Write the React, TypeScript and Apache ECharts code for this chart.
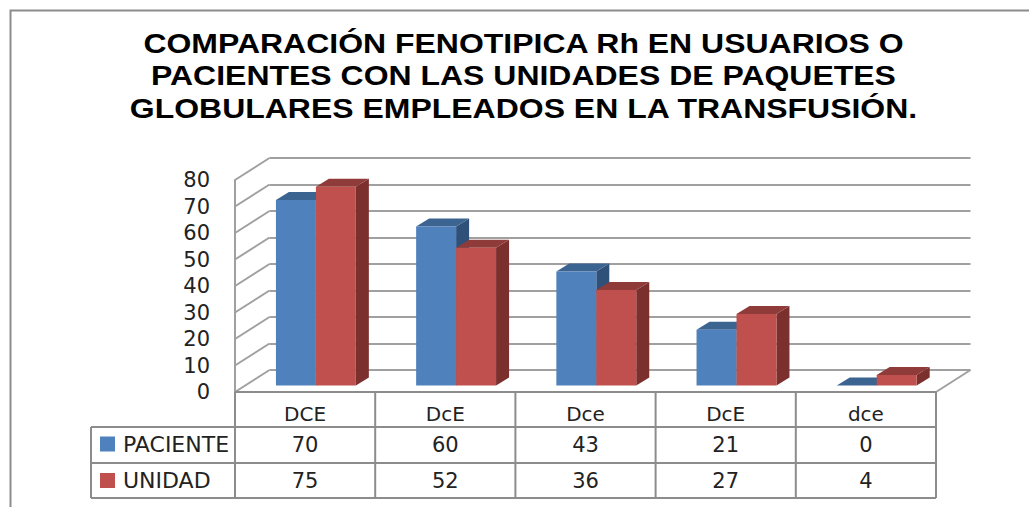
import React, { useEffect, useRef } from "react";
import * as echarts from "echarts";

const titleLines = [
  "COMPARACIÓN FENOTIPICA Rh EN USUARIOS O",
  "PACIENTES CON LAS UNIDADES DE PAQUETES",
  "GLOBULARES EMPLEADOS EN LA TRANSFUSIÓN.",
];
const categories = ["DCE", "DcE", "Dce", "DcE", "dce"];
const paciente = [70, 60, 43, 21, 0];
const unidad = [75, 52, 36, 27, 4];
const yTicks = [0, 10, 20, 30, 40, 50, 60, 70, 80];

const BLUE = { front: "#4F81BD", top: "#3C6491", side: "#2F5078" };
const RED = { front: "#C0504D", top: "#8E3B39", side: "#7B302E" };
const LINE = "#8C8C8C";
const WALL = "#A0A0A0";
const FONT = "'DejaVu Sans', sans-serif";

const L = 235, R = 936, T = 180, B = 392;
const DX = 34.5, DY = -22;
const ROW1 = 427, ROW2 = 463, ROW3 = 498, TABLE_L = 91;

function barRenderer(sign: number, c: typeof BLUE) {
  return (params: any, api: any) => {
    const i = api.value(0);
    const v = api.value(1);
    const band = api.size([1, 0])[0];
    const w = band * 0.285;
    const center = api.coord([i, 0])[0] + 10.8;
    const x0 = sign < 0 ? center - w : center;
    const x1 = x0 + w;
    const yb = api.coord([i, 0])[1] - 6.5;
    const yt = api.coord([i, v])[1] - 6.5;
    const dx = 13, dy = -8;
    return {
      type: "group",
      children: [
        { type: "polygon", shape: { points: [[x1, yb], [x1 + dx, yb + dy], [x1 + dx, yt + dy], [x1, yt]] }, style: { fill: c.side } },
        { type: "polygon", shape: { points: [[x0, yt], [x0 + dx, yt + dy], [x1 + dx, yt + dy], [x1, yt]] }, style: { fill: c.top } },
        { type: "rect", shape: { x: x0, y: yt, width: w, height: yb - yt }, style: { fill: c.front } },
      ],
    };
  };
}

function wallRenderer(params: any, api: any) {
  const i = params.dataIndex;
  const y = api.coord([0, yTicks[i]])[1];
  return {
    type: "line",
    shape: { x1: L, y1: y, x2: L + DX, y2: y + DY },
    style: { stroke: WALL, lineWidth: 2 },
  };
}

function tableRenderer(rowY: number) {
  return (params: any, api: any) => ({
    type: "text",
    x: api.coord([api.value(0), 0])[0],
    y: rowY,
    style: {
      text: String(api.value(1)),
      fill: "#222222",
      font: `21px ${FONT}`,
      align: "center",
      verticalAlign: "middle",
    },
  });
}

const hLine = (x1: number, y: number, x2: number) => ({
  type: "line",
  shape: { x1, y1: y, x2, y2: y },
  style: { stroke: LINE, lineWidth: 2 },
  z: 10,
});
const vLine = (x: number, y1: number, y2: number) => ({
  type: "line",
  shape: { x1: x, y1, x2: x, y2 },
  style: { stroke: LINE, lineWidth: 2 },
  z: 10,
});

const TITLE_SCALE = 1.142;
const titleText = (s: string, i: number) => ({
  type: "text",
  x: 523.5,
  y: 43 + i * 32.5,
  scaleX: TITLE_SCALE,
  style: {
    text: s,
    fill: "#000",
    font: "bold 28px 'Liberation Sans', Arial, sans-serif",
    align: "center",
    verticalAlign: "middle",
  },
  z: 20,
});

export default function App() {
  const ref = useRef<HTMLDivElement>(null);
  useEffect(() => {
    const chart = echarts.init(ref.current!, null, { renderer: "svg" });
    const cellW = (R - L) / categories.length;
    const cols = categories.map((_, i) => L + cellW * (i + 1));
    chart.setOption({
      animation: false,
      backgroundColor: "#fff",
      legend: {
        data: [
          { name: "PACIENTE", icon: "rect", itemStyle: { color: BLUE.front } },
          { name: "UNIDAD", icon: "rect", itemStyle: { color: RED.front } },
        ],
        orient: "vertical",
        left: 100,
        top: 433,
        itemWidth: 15,
        itemHeight: 15,
        itemGap: 14.5,
        selectedMode: false,
        padding: 0,
        textStyle: { fontFamily: FONT, fontSize: 22, lineHeight: 16, height: 16, color: "#222", padding: [0, 0, 0, 3] },
      },
      grid: [
        { left: L, top: T, width: R - L, height: B - T },
        { left: L + DX, top: T + DY, width: R - L, height: B - T },
      ],
      xAxis: [
        {
          type: "category",
          data: categories,
          gridIndex: 0,
          axisTick: { show: false },
          axisLine: { show: false },
          axisLabel: { fontFamily: FONT, fontSize: 20, color: "#222", margin: 12 },
        },
        { type: "category", data: categories, gridIndex: 1, show: false },
      ],
      yAxis: [
        {
          type: "value",
          min: 0,
          max: 80,
          interval: 10,
          gridIndex: 0,
          axisLine: { show: true, lineStyle: { color: WALL, width: 2 } },
          axisTick: { show: false },
          splitLine: { show: false },
          axisLabel: { fontFamily: FONT, fontSize: 21, color: "#222", margin: 25, padding: [4, 0, 0, 0] },
        },
        {
          type: "value",
          min: 0,
          max: 80,
          interval: 10,
          gridIndex: 1,
          axisLine: { show: false },
          axisTick: { show: false },
          axisLabel: { show: false },
          splitLine: { show: true, lineStyle: { color: WALL, width: 2 } },
        },
      ],
      graphic: [
        {
          type: "polyline",
          shape: { points: [[10.5, 507], [10.5, 10.5], [1029, 10.5]] },
          style: { fill: "none", stroke: LINE, lineWidth: 2 },
        },
        {
          type: "line",
          shape: { x1: R, y1: B, x2: R + DX, y2: B + DY },
          style: { stroke: WALL, lineWidth: 2 },
        },
        hLine(L, B, R),
        hLine(TABLE_L, ROW1, R),
        hLine(TABLE_L, ROW2, R),
        hLine(TABLE_L, ROW3, R),
        vLine(TABLE_L, ROW1, ROW3),
        vLine(L, B, ROW3),
        ...cols.map((x) => vLine(x, B, ROW3)),
        ...titleLines.map(titleText),
      ],
      series: [
        {
          type: "custom",
          name: "walls",
          xAxisIndex: 0,
          yAxisIndex: 0,
          data: yTicks.map((v) => [0, v]),
          renderItem: wallRenderer,
          silent: true,
          z: 1,
        },
        {
          type: "custom",
          name: "PACIENTE",
          xAxisIndex: 0,
          yAxisIndex: 0,
          data: paciente.map((v, i) => [i, v]),
          encode: { x: 0, y: 1 },
          itemStyle: { color: BLUE.front },
          renderItem: barRenderer(-1, BLUE),
          z: 3,
        },
        {
          type: "custom",
          name: "UNIDAD",
          xAxisIndex: 0,
          yAxisIndex: 0,
          data: unidad.map((v, i) => [i, v]),
          encode: { x: 0, y: 1 },
          itemStyle: { color: RED.front },
          renderItem: barRenderer(1, RED),
          z: 4,
        },
        {
          type: "custom",
          name: "tabla paciente",
          xAxisIndex: 0,
          yAxisIndex: 0,
          data: paciente.map((v, i) => [i, v]),
          renderItem: tableRenderer(445),
          z: 12,
        },
        {
          type: "custom",
          name: "tabla unidad",
          xAxisIndex: 0,
          yAxisIndex: 0,
          data: unidad.map((v, i) => [i, v]),
          renderItem: tableRenderer(481),
          z: 12,
        },
      ],
    });
    return () => chart.dispose();
  }, []);
  return <div ref={ref} style={{ position: "absolute", left: 0, top: 0, width: 1029, height: 507 }} />;
}
